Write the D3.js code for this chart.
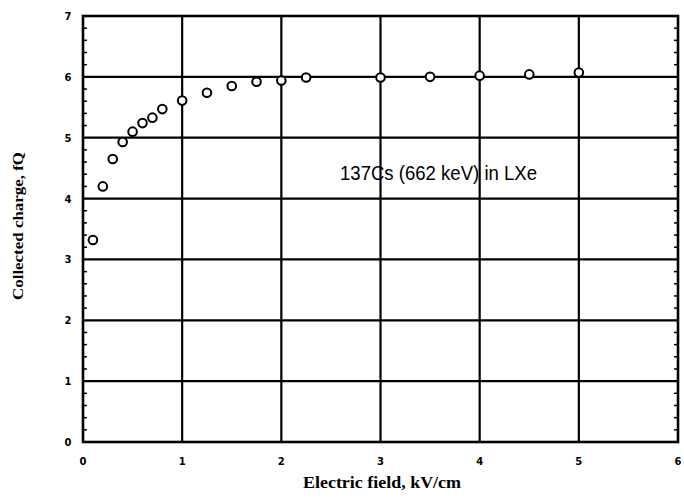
<!DOCTYPE html>
<html>
<head>
<meta charset="utf-8">
<script src="https://cdn.jsdelivr.net/npm/d3@7"></script>
<style>
  body { margin: 0; background: #fff; }
  svg { display: block; }
</style>
</head>
<body>
<svg id="chart"></svg>
<script>
// electric field (kV/cm) and collected charge (fQ)
const fieldValues = [0.1, 0.2, 0.3, 0.4, 0.5, 0.6, 0.7, 0.8, 1.0, 1.25, 1.5, 1.75, 2.0, 2.25, 3.0, 3.5, 4.0, 4.5, 5.0];
const chargeValues = [3.32, 4.2, 4.65, 4.93, 5.1, 5.24, 5.33, 5.47, 5.61, 5.74, 5.85, 5.92, 5.94, 5.99, 5.99, 6.0, 6.02, 6.04, 6.07];
const xTicks = [0, 1, 2, 3, 4, 5, 6];
const yTicks = [0, 1, 2, 3, 4, 5, 6, 7];
const annotation = "137Cs (662 keV) in LXe";

const width = 684, height = 499;
const margin = { top: 16, right: 6, bottom: 57, left: 83 };

const svg = d3.select("#chart")
    .attr("width", width)
    .attr("height", height);

const x = d3.scaleLinear().domain([0, 6]).range([margin.left, width - margin.right]);
const y = d3.scaleLinear().domain([0, 7]).range([height - margin.bottom, margin.top]);

const ink = "#000";

// grid lines
svg.append("g")
    .selectAll("line")
    .data(xTicks.slice(1, -1))
    .join("line")
    .attr("x1", d => x(d)).attr("x2", d => x(d))
    .attr("y1", y(0)).attr("y2", y(7))
    .attr("stroke", ink).attr("stroke-width", 2.2);

svg.append("g")
    .selectAll("line")
    .data(yTicks.slice(1, -1))
    .join("line")
    .attr("x1", x(0)).attr("x2", x(6))
    .attr("y1", d => y(d)).attr("y2", d => y(d))
    .attr("stroke", ink).attr("stroke-width", 2.2);

// minor ticks on left and right edges
const minor = d3.range(0, 7.001, 0.2).filter(v => Math.abs(v - Math.round(v)) > 1e-6);
svg.append("g")
    .selectAll("line")
    .data(minor)
    .join("line")
    .attr("x1", x(0)).attr("x2", x(0) + 4)
    .attr("y1", d => y(d)).attr("y2", d => y(d))
    .attr("stroke", ink).attr("stroke-width", 1.5);
svg.append("g")
    .selectAll("line")
    .data(minor)
    .join("line")
    .attr("x1", x(6)).attr("x2", x(6) - 4)
    .attr("y1", d => y(d)).attr("y2", d => y(d))
    .attr("stroke", ink).attr("stroke-width", 1.5);

// frame
svg.append("rect")
    .attr("x", x(0)).attr("y", y(7))
    .attr("width", x(6) - x(0)).attr("height", y(0) - y(7))
    .attr("fill", "none").attr("stroke", ink).attr("stroke-width", 2.6);

// tick labels
svg.append("g")
    .selectAll("text")
    .data(xTicks)
    .join("text")
    .attr("x", d => x(d)).attr("y", y(0) + 23)
    .attr("text-anchor", "middle")
    .style("font-family", "'DejaVu Sans', sans-serif")
    .style("font-weight", "bold")
    .style("font-size", "10px")
    .text(d => d);

svg.append("g")
    .selectAll("text")
    .data(yTicks)
    .join("text")
    .attr("x", x(0) - 15).attr("y", d => y(d) + 4)
    .attr("text-anchor", "middle")
    .style("font-family", "'DejaVu Sans', sans-serif")
    .style("font-weight", "bold")
    .style("font-size", "10px")
    .text(d => d);

// axis titles
svg.append("text")
    .attr("x", 382).attr("y", 488)
    .attr("text-anchor", "middle")
    .attr("textLength", 158)
    .attr("lengthAdjust", "spacingAndGlyphs")
    .style("font-family", "'Liberation Serif', serif")
    .style("font-weight", "bold")
    .style("font-size", "16px")
    .text("Electric field, kV/cm");

svg.append("text")
    .attr("transform", `translate(23,${(y(0) + y(7)) / 2 - 3}) rotate(-90)`)
    .attr("text-anchor", "middle")
    .attr("textLength", 148)
    .attr("lengthAdjust", "spacingAndGlyphs")
    .style("font-family", "'Liberation Serif', serif")
    .style("font-weight", "bold")
    .style("font-size", "15px")
    .text("Collected charge, fQ");

// annotation
svg.append("text")
    .attr("x", 340).attr("y", 180)
    .attr("textLength", 197)
    .attr("lengthAdjust", "spacingAndGlyphs")
    .style("font-family", "'Liberation Sans', sans-serif")
    .style("font-size", "20px")
    .text(annotation);

// data points
svg.append("g")
    .selectAll("circle")
    .data(fieldValues.map((f, i) => [f, chargeValues[i]]))
    .join("circle")
    .attr("cx", d => x(d[0])).attr("cy", d => y(d[1]))
    .attr("r", 4.3)
    .attr("fill", "#fff")
    .attr("stroke", ink).attr("stroke-width", 2);
</script>
</body>
</html>
